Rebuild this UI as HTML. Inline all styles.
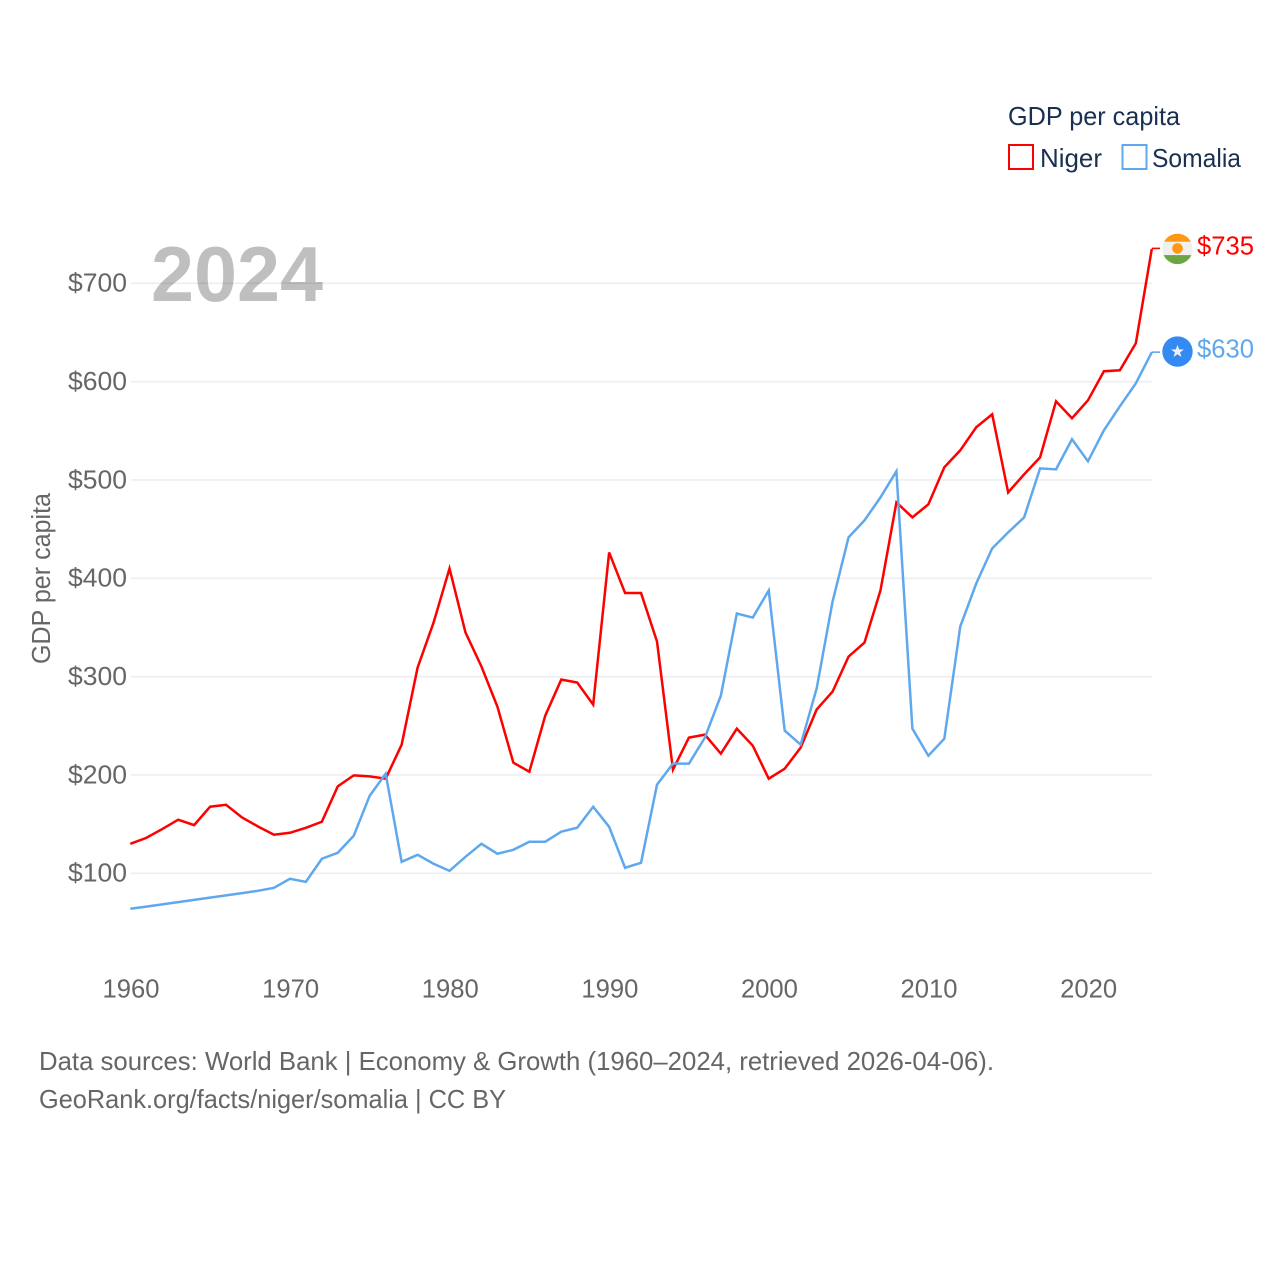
<!DOCTYPE html>
<html lang="en">
<head>
<meta charset="utf-8">
<title>GDP per capita: Niger and Somalia</title>
<style>
html,body{margin:0;padding:0;background:#fff;}
svg{display:block;font-family:"Liberation Sans",sans-serif;}
text{font-weight:400;}
</style>
</head>
<body>
<svg id="chart" xmlns="http://www.w3.org/2000/svg" width="1280" height="1280" viewBox="0 0 1280 1280">
  <rect x="0" y="0" width="1280" height="1280" fill="#ffffff"/>
  <g id="grid"></g>
  <g id="yticks"></g>
  <g id="xticks"></g>
  <text transform="translate(50,578.5) rotate(-90)" text-anchor="middle" font-size="25.5" fill="#666666" textLength="171" lengthAdjust="spacingAndGlyphs">GDP per capita</text>
  <g id="series"></g>
  <text x="151" y="301" font-size="78" fill="#000000" fill-opacity="0.25" style="font-weight:700" textLength="172" lengthAdjust="spacingAndGlyphs">2024</text>
  <g id="end-markers"></g>
  <g>
    <text x="1008" y="125" font-size="26" fill="#1a3050" textLength="172" lengthAdjust="spacingAndGlyphs">GDP per capita</text>
    <rect x="1009" y="145" width="24" height="24" fill="none" stroke="#ff0000" stroke-width="2"/>
    <text x="1040" y="167" font-size="26" fill="#1a3050" textLength="62" lengthAdjust="spacingAndGlyphs">Niger</text>
    <rect x="1122.5" y="145" width="24" height="24" fill="none" stroke="#5fa8ee" stroke-width="2"/>
    <text x="1152" y="167" font-size="26" fill="#1a3050" textLength="89" lengthAdjust="spacingAndGlyphs">Somalia</text>
  </g>
  <text x="39" y="1070" font-size="26" fill="#666666" textLength="955" lengthAdjust="spacingAndGlyphs">Data sources: World Bank | Economy &amp; Growth (1960–2024, retrieved 2026-04-06).</text>
  <text x="39" y="1108" font-size="26" fill="#666666" textLength="467" lengthAdjust="spacingAndGlyphs">GeoRank.org/facts/niger/somalia | CC BY</text>
</svg>
<script>
const firstYear = 1960;
const lastYear = 2024;
const xTickYears = [1960, 1970, 1980, 1990, 2000, 2010, 2020];
const yTickValues = [100, 200, 300, 400, 500, 600, 700];
const nigerValues = [130,136,145,154.5,149,167.7,169.7,156.8,147.6,139.2,141.2,146.3,152.4,188.4,199.6,198.6,196.2,230.8,309.2,355,410,344.9,310.3,269.5,212.5,203.3,260.4,297,294,271.6,426.3,385,385,335.7,205.4,238,241,221.7,247.1,229.8,196.2,206.4,227.8,266.5,284.8,320.4,334.7,387.6,477.2,462,475.2,512.9,530.2,553.6,566.8,487.4,505.7,523,580,562.8,581,610.6,611.6,639.1,735];
const somaliaValues = [63.9,66.1,68.4,70.7,73,75.3,77.5,79.8,82.2,85.2,94.4,91.3,114.8,120.9,138.2,178.9,201.3,111.7,118.8,109.7,102.5,116.8,130,119.9,123.9,132.1,132.1,142.3,146.3,167.7,147.3,105.6,110.7,190.1,211.5,211.5,238,280.7,364.2,360.1,387.6,245.1,230.8,287.8,376.4,441.6,458.9,482.3,508.8,247.1,219.6,236.9,351,394.7,430.4,446.7,461.9,511.8,510.8,541.4,519,550.5,574.9,598.3,630];

const NS = 'http://www.w3.org/2000/svg';
const plotLeft = 130.3;
const plotRight = 1151.8;
const gridLeft = 131;
const gridRight = 1152.5;
const RED = '#ff0000';
const BLUE = '#5fa8ee';

function xScale(year) {
  return plotLeft + (year - firstYear) * (plotRight - plotLeft) / (lastYear - firstYear);
}
function yScale(value) {
  return 873.3 - (value - 100) * 0.9833;
}
function make(tag, attrs, parent) {
  const el = document.createElementNS(NS, tag);
  for (const k in attrs) el.setAttribute(k, attrs[k]);
  parent.appendChild(el);
  return el;
}

const gridGroup = document.getElementById('grid');
const yTickGroup = document.getElementById('yticks');
const xTickGroup = document.getElementById('xticks');
const seriesGroup = document.getElementById('series');
const markerGroup = document.getElementById('end-markers');

yTickValues.forEach(function (v) {
  const line = make('line', {x1: gridLeft, x2: gridRight, y1: yScale(v), y2: yScale(v), stroke: '#eeeeee', 'stroke-width': 1.6}, gridGroup);
  
  
  const label = make('text', {x: 127, y: yScale(v) + 8.3, 'text-anchor': 'end', 'font-size': 26, fill: '#666666', textLength: 59, lengthAdjust: 'spacingAndGlyphs'}, yTickGroup);
  
  
  label.textContent = '$' + v;
});

xTickYears.forEach(function (yr) {
  const label = make('text', {x: xScale(yr) + 0.7, y: 997.5, 'text-anchor': 'middle', 'font-size': 26, fill: '#666666', textLength: 57, lengthAdjust: 'spacingAndGlyphs'}, xTickGroup);
  
  
  label.textContent = String(yr);
});

function buildPoints(values) {
  return values.map(function (v, i) {
    return xScale(firstYear + i).toFixed(2) + ',' + yScale(v).toFixed(2);
  }).join(' ');
}

const nigerLine = make('polyline', {points: buildPoints(nigerValues), fill: 'none', stroke: RED, 'stroke-width': 2.5, 'stroke-linejoin': 'miter'}, seriesGroup);


const somaliaLine = make('polyline', {points: buildPoints(somaliaValues), fill: 'none', stroke: BLUE, 'stroke-width': 2.5, 'stroke-linejoin': 'miter'}, seriesGroup);



const nigerEnd = yScale(nigerValues[nigerValues.length - 1]);
const somaliaEnd = yScale(somaliaValues[somaliaValues.length - 1]);

const nigerConnector = make('line', {x1: plotRight, x2: 1160, y1: nigerEnd - 0.5, y2: nigerEnd - 0.5, stroke: RED, 'stroke-width': 1.6}, markerGroup);


const somaliaConnector = make('line', {x1: plotRight, x2: 1160, y1: somaliaEnd, y2: somaliaEnd, stroke: BLUE, 'stroke-width': 1.6}, markerGroup);



/* Niger flag marker */
const fx = 1177.5;
const clip = make('clipPath', {id: 'niger-clip'}, markerGroup);
make('circle', {cx: fx, cy: nigerEnd, r: 15.2}, clip);
const nigerFlag = make('g', {'clip-path': 'url(#niger-clip)'}, markerGroup);


make('rect', {x: fx - 16, y: nigerEnd - 16, width: 32, height: 32, fill: '#f0f0f0'}, nigerFlag);
make('rect', {x: fx - 16, y: nigerEnd - 16, width: 32, height: 8.8, fill: '#ff9811'}, nigerFlag);
make('rect', {x: fx - 16, y: nigerEnd + 6.2, width: 32, height: 10, fill: '#6da544'}, nigerFlag);
make('circle', {cx: fx, cy: nigerEnd - 0.5, r: 5.3, fill: '#ff9811'}, nigerFlag);

/* Somalia flag marker */
const somaliaFlag = make('g', {}, markerGroup);


make('circle', {cx: fx, cy: somaliaEnd - 0.6, r: 15.2, fill: '#338af3'}, somaliaFlag);
const starPts = [];
for (let i = 0; i < 10; i++) {
  const r = i % 2 === 0 ? 6.8 : 2.7;
  const a = -Math.PI / 2 + i * Math.PI / 5;
  starPts.push((fx + r * Math.cos(a)).toFixed(2) + ',' + (somaliaEnd - 0.6 + r * Math.sin(a)).toFixed(2));
}
make('polygon', {points: starPts.join(' '), fill: '#f0f0f0'}, somaliaFlag);

const nigerValueLabel = make('text', {x: 1197, y: nigerEnd + 5.8, 'font-size': 26, fill: RED, textLength: 57, lengthAdjust: 'spacingAndGlyphs'}, markerGroup);


nigerValueLabel.textContent = '$' + Math.round(nigerValues[nigerValues.length - 1]);
const somaliaValueLabel = make('text', {x: 1197, y: somaliaEnd + 5.3, 'font-size': 26, fill: BLUE, textLength: 57, lengthAdjust: 'spacingAndGlyphs'}, markerGroup);


somaliaValueLabel.textContent = '$' + Math.round(somaliaValues[somaliaValues.length - 1]);
</script>
</body>
</html>
